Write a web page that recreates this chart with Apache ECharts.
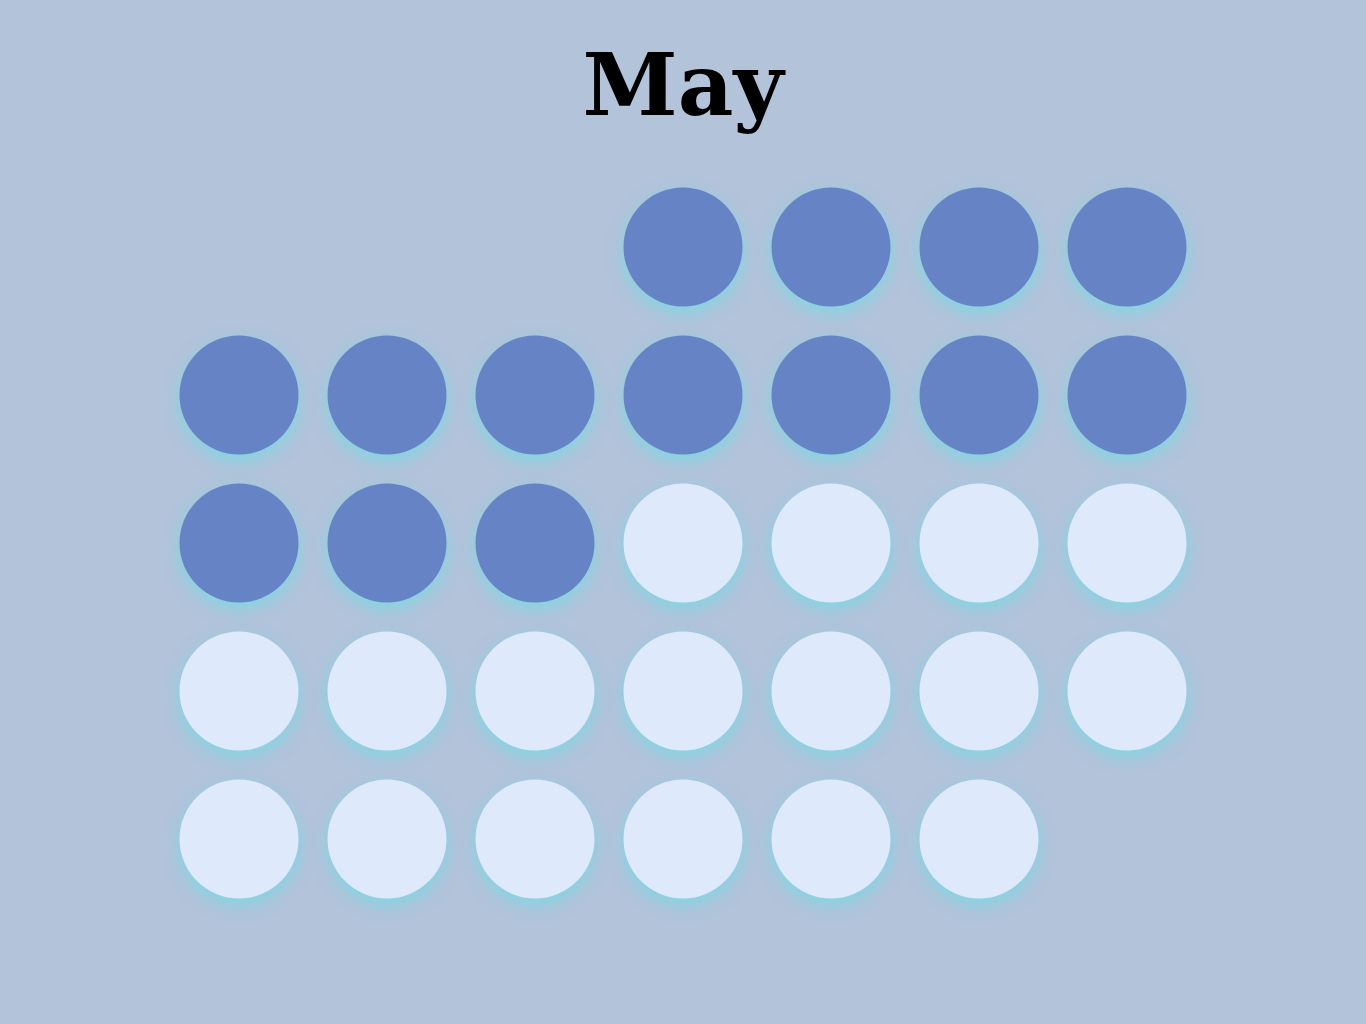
<!DOCTYPE html>
<html>
<head>
<meta charset="utf-8">
<script src="https://cdn.jsdelivr.net/npm/echarts@6/dist/echarts.min.js"></script>
<style>
  html,body{margin:0;padding:0;background:#b2c3da;}
  #main{width:1366px;height:1024px;}
</style>
</head>
<body>
<div id="main"></div>
<script>
// month shown and which days are marked
let month = '2025-05'
let titleText = 'May'
let days = []
for (let d = 1; d <= 31; d++) days.push(d)
let marked = [1,1,1,1,1,1,1,1,1,1,1,1,1,1,0,0,0,0,0,0,0,0,0,0,0,0,0,0,0,0,0]

function pad(n){ return n < 10 ? '0' + n : '' + n }

let doneData = []
let restData = []
days.forEach(function(d, i){
  let item = [month + '-' + pad(d), marked[i]]
  if (marked[i]) doneData.push(item)
  else restData.push(item)
})

var myChart = echarts.init(document.getElementById('main'))

var dotStyle = function(color){
  return {
    color: color,
    opacity: 1,
    shadowColor: 'rgba(125,215,228,0.95)',
    shadowBlur: 16,
    shadowOffsetY: 6
  }
}

var option = {
  backgroundColor: '#b2c3da',
  animation: false,
  title: {
    text: titleText,
    left: 'center',
    top: 45,
    textStyle: {
      fontFamily: 'DejaVu Serif',
      fontWeight: 'bold',
      fontSize: 86,
      color: '#000'
    }
  },
  calendar: {
    orient: 'vertical',
    range: month,
    left: 165,
    top: 173,
    cellSize: [148, 148],
    dayLabel: { show: false, firstDay: 1 },
    monthLabel: { show: false },
    yearLabel: { show: false },
    splitLine: { show: false },
    itemStyle: { color: 'transparent', borderWidth: 0 }
  },
  series: [{
    type: 'scatter',
    coordinateSystem: 'calendar',
    symbolSize: 119,
    data: doneData,
    itemStyle: dotStyle('#6684c5')
  }, {
    type: 'scatter',
    coordinateSystem: 'calendar',
    symbolSize: 119,
    data: restData,
    itemStyle: dotStyle('#dfe9fc')
  }]
}

myChart.setOption(option)
</script>
</body>
</html>
